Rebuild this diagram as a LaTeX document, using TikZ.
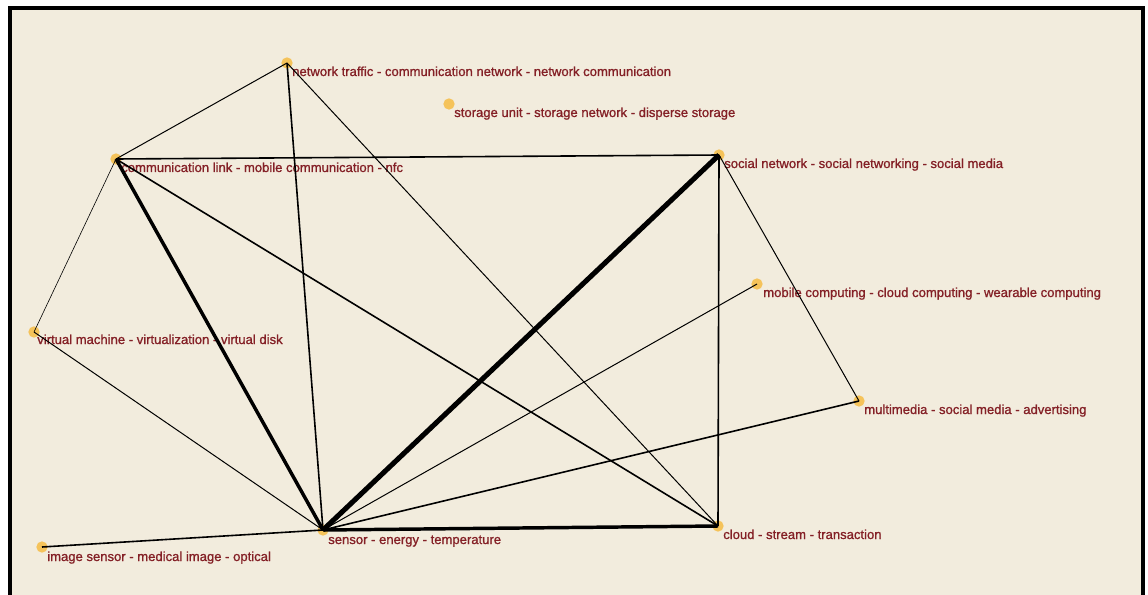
\documentclass[tikz,border=0pt]{standalone}
\usepackage{fontspec}
\setmainfont{Liberation Sans}
\newfontfamily\labfont[FakeBold=1.0]{Liberation Sans}
\definecolor{bgc}{HTML}{F2ECDD}
\definecolor{dotc}{HTML}{F5C35A}
\definecolor{labc}{HTML}{842026}
\tikzset{
  dot/.style={circle,fill=dotc,inner sep=0pt,minimum size=8.5pt},
  lab/.style={anchor=base west,inner sep=0pt,text=labc,font=\labfont\fontsize{9.8pt}{11pt}\selectfont},
  vthin/.style={line width=0.45pt},
  thin/.style={line width=0.75pt},
  med/.style={line width=1.2pt},
  thick/.style={line width=2.6pt},
  vthick/.style={line width=3.8pt},
}
\begin{document}
\begin{tikzpicture}[x=0.75pt,y=-0.75pt]
\useasboundingbox (0,0) rectangle (1148,595);
\fill[white] (0,0) rectangle (1148,595);
\fill[bgc] (10,8) rectangle (1143,595);
\draw[line width=2.4pt] (10,600) -- (10,8) -- (1143,8) -- (1143,600);
% nodes
\node[dot] (nt) at (287,63) {};
\node[dot] (su) at (449,104) {};
\node[dot] (cl) at (116,159) {};
\node[dot] (sn) at (719,155) {};
\node[dot] (mc) at (757,284) {};
\node[dot] (vm) at (34,332) {};
\node[dot] (mm) at (859,401) {};
\node[dot] (se) at (323,530) {};
\node[dot] (cd) at (718,526) {};
\node[dot] (is) at (42,547) {};
% labels
\node[lab] (ntl) at (292,76) {network traffic - communication network - network communication};
\node[lab] (sul) at (454,117) {storage unit - storage network - disperse storage};
\node[lab] (cll) at (121,172) {communication link - mobile communication - nfc};
\node[lab] (snl) at (724,168) {social network - social networking - social media};
\node[lab] (mcl) at (763,297) {mobile computing - cloud computing - wearable computing};
\node[lab] (vml) at (37,344) {virtual machine - virtualization - virtual disk};
\node[lab] (mml) at (864,414) {multimedia - social media - advertising};
\node[lab] (sel) at (328,544) {sensor - energy - temperature};
\node[lab] (cdl) at (723,539) {cloud - stream - transaction};
\node[lab] (isl) at (47,561) {image sensor - medical image - optical};
% edges
\draw[thin] (nt.center) -- (cl.center);
\draw[med] (nt.center) -- (se.center);
\draw[thin] (nt.center) -- (cd.center);
\draw[med] (cl.center) -- (sn.center);
\draw[thick] (cl.center) -- (se.center);
\draw[med] (cl.center) -- (cd.center);
\draw[vthin] (cl.center) -- (vm.center);
\draw[vthick] (sn.center) -- (se.center);
\draw[med] (sn.center) -- (cd.center);
\draw[thin] (sn.center) -- (mm.center);
\draw[thin] (mc.center) -- (se.center);
\draw[thin] (vm.center) -- (se.center);
\draw[med] (mm.center) -- (se.center);
\draw[thick] (se.center) -- (cd.center);
\draw[med] (is.center) -- (se.center);
\end{tikzpicture}
\end{document}
